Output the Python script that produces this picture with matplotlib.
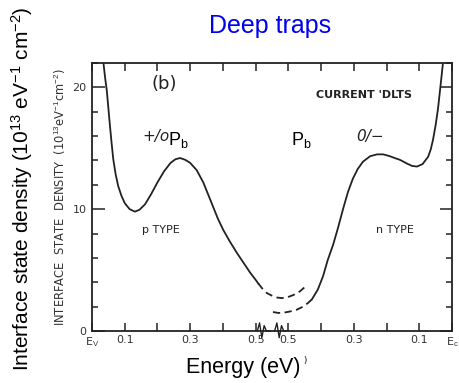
import matplotlib
matplotlib.use('Agg')
from matplotlib import pyplot as plt

# energy position from Ev (0) across the gap to Ec (1.1), values in 1e13 eV^-1 cm^-2
p_left = [0.035, 0.040, 0.045, 0.050, 0.055, 0.060, 0.065, 0.072, 0.080, 0.090,
          0.100, 0.115, 0.131, 0.145, 0.162, 0.180, 0.200, 0.220, 0.240, 0.255,
          0.269, 0.285, 0.300, 0.320, 0.340, 0.355, 0.370, 0.385, 0.401, 0.420,
          0.443, 0.463, 0.483, 0.500, 0.508]
d_left = [22.0, 20.8, 19.8, 18.3, 16.8, 15.4, 14.1, 12.9, 11.9, 11.1,
          10.5, 10.0, 9.8, 9.95, 10.4, 11.2, 12.2, 13.1, 13.8, 14.1,
          14.2, 14.05, 13.8, 13.2, 12.2, 11.2, 10.2, 9.2, 8.3, 7.4,
          6.4, 5.6, 4.8, 4.2, 3.9]

p_left_dash = [0.508, 0.520, 0.535, 0.550, 0.565, 0.580, 0.595, 0.615, 0.635, 0.650]
d_left_dash = [3.9, 3.5, 3.1, 2.9, 2.75, 2.7, 2.75, 2.95, 3.25, 3.6]

p_right_dash = [0.553, 0.570, 0.585, 0.605, 0.626, 0.645, 0.660, 0.672]
d_right_dash = [1.56, 1.48, 1.5, 1.6, 1.75, 2.0, 2.3, 2.6]

p_right = [0.672, 0.690, 0.706, 0.720, 0.737, 0.752, 0.767, 0.782, 0.797, 0.812,
           0.828, 0.850, 0.871, 0.890, 0.910, 0.930, 0.941, 0.962, 0.978, 0.993,
           1.010, 1.027, 1.035, 1.042, 1.050, 1.057, 1.064, 1.072]
d_right = [2.6, 3.4, 4.5, 5.8, 7.1, 8.5, 10.0, 11.4, 12.5, 13.3,
           13.9, 14.35, 14.5, 14.5, 14.35, 14.15, 14.05, 13.75, 13.55, 13.5,
           13.7, 14.3, 14.9, 15.7, 16.9, 18.2, 19.9, 21.9]

x_ticks = [0, 0.1, 0.2, 0.3, 0.4, 0.5, 0.6, 0.7, 0.8, 0.9, 1.0, 1.1]
x_labels = ['E$_\\mathrm{V}$', '0.1', '', '0.3', '', '0.5', '0.5', '', '0.3', '', '0.1', 'E$_\\mathrm{c}$']
y_major = [0, 10, 20]
y_minor = [2, 4, 6, 8, 12, 14, 16, 18, 22]

plt.rcParams['mathtext.fontset'] = 'custom'
plt.rcParams['mathtext.rm'] = 'Liberation Sans'
plt.rcParams['mathtext.it'] = 'Liberation Sans'

scan = '#222222'
fig = plt.figure(figsize=(4.59, 3.83), dpi=100)
ax = fig.add_axes([92 / 459, 1 - 331 / 383, 360 / 459, 268 / 383])

ax.plot(p_left, d_left, color=scan, lw=1.3)
ax.plot(p_left_dash, d_left_dash, color=scan, lw=1.3, linestyle=(0, (4, 2.5)))
ax.plot(p_right_dash, d_right_dash, color=scan, lw=1.3, linestyle=(0, (4, 2.5)))
ax.plot(p_right, d_right, color=scan, lw=1.3)

ax.set_xlim(0, 1.1)
ax.set_ylim(0, 22)
for s in ax.spines.values():
    s.set_linewidth(1.3)
    s.set_color(scan)

ax.set_xticks(x_ticks)
ax.set_xticklabels(x_labels)
ax.set_yticks(y_major)
ax.set_yticks(y_minor, minor=True)
ax.tick_params(axis='x', direction='in', length=6, width=1.1, top=True,
               labelsize=8, labelcolor='#333333', color=scan, pad=3)
ax.tick_params(axis='y', which='major', direction='in', length=9, width=1.1,
               right=True, labelsize=8, labelcolor='#333333', color=scan, pad=4)
ax.tick_params(axis='y', which='minor', direction='in', length=4, width=1.1,
               right=True, color=scan)

# axis break on the bottom
tr = ax.get_xaxis_transform()
ax.plot([0.505, 0.512, 0.519, 0.526, 0.533, 0.545], [0.0, 0.03, -0.025, 0.02, 0.0, 0.0],
        color=scan, lw=1.0, transform=tr, clip_on=False)
ax.plot([0.558, 0.565, 0.572, 0.579, 0.586, 0.595], [0.0, 0.03, -0.025, 0.02, 0.0, 0.0],
        color=scan, lw=1.0, transform=tr, clip_on=False)

# text of the scanned figure
ax.text(0.22, 20.3, '(b)', fontsize=13, color=scan, ha='center', va='center')
ax.text(0.83, 19.4, 'CURRENT \'DLTS', fontsize=8, color=scan, ha='center',
        va='center', fontweight='bold')
ax.text(0.195, 16.0, '+/o', fontsize=11, color=scan, ha='center', va='center',
        fontstyle='italic')
ax.text(0.85, 16.0, '0/\u2212', fontsize=11, color=scan, ha='center',
        va='center', fontstyle='italic')
ax.text(0.21, 8.3, 'p TYPE', fontsize=8, color=scan, ha='center', va='center')
ax.text(0.925, 8.3, 'n TYPE', fontsize=8, color=scan, ha='center', va='center')
fig.text(60 / 459, 1 - 197 / 383,
         'INTERFACE  STATE  DENSITY  (10$^{13}$eV$^{-1}$cm$^{-2}$)',
         rotation=90, fontsize=8.3, color='#333333', ha='center', va='center')

# overlaid labels
ax.text(0.265, 15.7, 'P$_\\mathrm{b}$', fontsize=13, family='Liberation Sans',
        ha='center', va='center')
ax.text(0.64, 15.7, 'P$_\\mathrm{b}$', fontsize=13, family='Liberation Sans',
        ha='center', va='center')
fig.text(270 / 459, 1 - 26 / 383, 'Deep traps', fontsize=18, color='#0000ee',
         family='Liberation Sans', ha='center', va='center')
fig.text(243 / 459, 1 - 368 / 383, 'Energy (eV)', fontsize=15.5,
         family='Liberation Sans', ha='center', va='center')
fig.text(305 / 459, 1 - 361 / 383, ')', fontsize=6, ha='center', va='center')
fig.text(22 / 459, 1 - 189 / 383,
         'Interface state density (10$^{13}$ eV$^{-1}$ cm$^{-2}$)',
         fontsize=15, family='Liberation Sans', rotation=90,
         ha='center', va='center')

plt.savefig('out.png', dpi=100)
